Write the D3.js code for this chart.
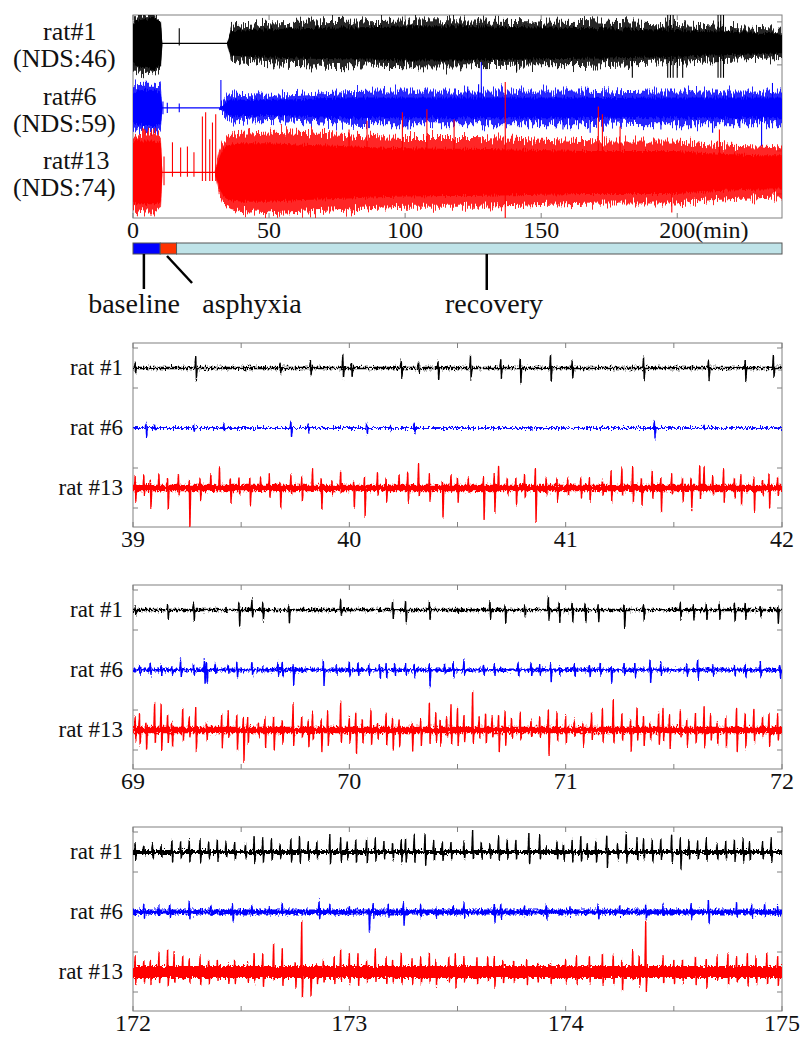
<!DOCTYPE html>
<html>
<head>
<meta charset="utf-8">
<script src="https://cdn.jsdelivr.net/npm/d3@7"></script>
<style>
  body { margin: 0; background: #fff; }
  svg text { font-family: "Liberation Serif", "Times New Roman", serif; fill: #111; }
</style>
</head>
<body>
<div id="chart"></div>
<script>
// ---------- data ----------
const ratNames = ["rat#1", "rat#6", "rat#13"];
const ndsScores = [46, 59, 74];
const traceOffsets = [1.5, 0, -1.5];   // vertical stacking, in y-tick units
const traceColors = ["#000000", "#0000ff", "#ff0000"];

// overview (minutes) – envelope half-amplitudes (0 = flat trace)
const topTime   = [0, 1, 4, 8, 10.2, 10.8, 30, 31.5, 33, 34.5, 36, 40, 50, 60, 75, 90, 100, 115, 125, 140, 150, 165, 175, 190, 200, 210, 220, 230, 238.5];
const r1Core    = [.45, .52, .56, .60, .50, 0, 0, 0, 0, 0, .28, .30, .33, .35, .37, .38, .40, .40, .40, .38, .37, .36, .35, .33, .31, .29, .27, .25, .23];
const r1Fringe  = [.55, .62, .65, .68, .60, 0, 0, 0, 0, 0, .38, .42, .46, .48, .50, .52, .53, .54, .53, .52, .51, .50, .48, .45, .43, .40, .38, .36, .34];
const r6Core    = [.35, .40, .42, .42, .35, 0, 0, 0, .05, .15, .20, .19, .19, .20, .24, .24, .24, .24, .24, .24, .24, .24, .23, .24, .24, .24, .24, .24, .24];
const r6Fringe  = [.50, .55, .56, .56, .50, 0, 0, 0, .12, .30, .32, .30, .28, .30, .36, .38, .38, .38, .38, .38, .38, .38, .36, .38, .38, .38, .38, .38, .38];
const r13Core   = [.70, .74, .74, .74, .70, 0, 0, .30, .55, .62, .65, .68, .68, .65, .62, .58, .56, .55, .55, .53, .52, .50, .50, .50, .50, .45, .42, .40, .40];
const r13Fringe = [.85, .90, .93, .93, .85, 0, 0, .50, .70, .80, .85, .92, .95, .92, .88, .82, .80, .80, .80, .78, .76, .73, .72, .72, .72, .66, .62, .60, .58];
// isolated excursions in the overview: [minute, up, down]
const r1Spikes  = [[17, .35, .05], [141, 0, .65], [183.5, 0, .8], [196.5, .7, .8], [197.5, .7, .8], [198.5, .7, .8], [200, .3, .8], [202, .3, .8], [215, .7, .8], [216, .7, .8], [217, .7, .8]];
const r6Spikes  = [[11, .15, .15], [12.6, .12, .12], [17, .1, .1], [32.3, .65, .05], [101, 0, .5], [123, .5, 0], [127, .55, 0], [128, 1.07, 0], [158, 0, .5], [168, 0, .58], [194, 0, .5], [213, 0, .58], [223, 0, .47], [231, 0, .9], [235, .58, 0]];
const r13Spikes = [[11.4, .37, .3], [14.5, .7, .1], [17.5, .58, .1], [20, .6, .1], [22.4, .47, .1], [25.5, 1.3, .2], [26.7, 1.4, .2], [28.2, .77, .2], [29.2, 1.16, .2], [30.4, 1.35, .2], [79.4, 1.0, 0], [86, 1.2, 0], [99, 1.4, 0], [108, 1.47, 0], [118, 1.23, 0], [136.8, 2.1, 1.1], [171, 1.53, 0], [172.5, 1.35, 0], [179, 1.07, 0], [198, 0, .93], [215.5, 1.0, 0]];
const overviewTicks = [0, 50, 100, 150, 200];
const overviewTickLabels = ["0", "50", "100", "150", "200(min)"];

// protocol phases (minutes)
const phaseNames = ["baseline", "asphyxia", "recovery"];
const phaseStart = [0, 10, 16];
const phaseEnd = [10, 16, 238.5];
const phaseColors = ["#0000ff", "#ff3300", "#bfe3e8"];

// zoomed windows (minutes) and their events: [minute, up, down]
const winStart = [39, 69, 172];
const winEnd = [42, 72, 175];
const winNoise = [[.03, .02, .08], [.03, .04, .08], [.05, .06, .15]];

const w1r1 = [[39.01,.12,.12],[39.29,.29,.29],[39.68,.12,.12],[39.82,.17,.17],[39.97,.32,.25],[40.01,.10,.21],[40.24,.21,.25],[40.32,.17,.12],[40.41,.17,.29],[40.56,.29,.27],[40.70,.21,.23],[40.79,.23,.37],[40.93,.33,.33],[41.03,.17,.25],[41.36,.27,.29],[41.66,.17,.29],[41.83,.18,.32],[41.96,.32,.23]];
const w1r6 = [[39.06,.12,.21],[39.10,.07,.07],[39.28,.08,.08],[39.42,.10,.08],[39.73,.17,.21],[39.81,.10,.10],[40.08,.12,.15],[40.19,.04,.04],[40.30,.12,.12],[40.84,.04,.04],[41.41,.17,.25],[41.64,.07,.04]];
const w1r13 = [[39.01,.29,.33],[39.05,.33,.17],[39.08,.17,.50],[39.12,.33,.08],[39.16,.25,.54],[39.21,.33,.17],[39.26,.17,.98],[39.31,.25,.29],[39.36,.33,.08],[39.40,.50,.08],[39.45,.25,.38],[39.49,.25,.17],[39.54,.25,.42],[39.59,.25,.08],[39.63,.33,.25],[39.68,.17,.50],[39.73,.33,.17],[39.78,.25,.33],[39.83,.46,.08],[39.87,.25,.54],[39.92,.17,.17],[39.96,.42,.13],[40.02,.17,.50],[40.07,.25,.71],[40.13,.38,.17],[40.17,.25,.33],[40.23,.33,.08],[40.27,.42,.33],[40.32,.58,.17],[40.37,.33,.33],[40.43,.17,.75],[40.47,.33,.08],[40.50,.25,.33],[40.55,.25,.13],[40.62,.25,.79],[40.67,.33,.58],[40.69,.54,.08],[40.73,.25,.17],[40.77,.25,.42],[40.81,.33,.25],[40.86,.50,.83],[40.91,.25,.17],[40.96,.25,.33],[41.01,.25,.17],[41.07,.25,.25],[41.11,.25,.33],[41.17,.17,.17],[41.21,.42,.33],[41.26,.50,.17],[41.31,.54,.33],[41.35,.25,.42],[41.40,.42,.25],[41.44,.25,.58],[41.49,.33,.17],[41.54,.25,.33],[41.58,.25,.54],[41.62,.58,.25],[41.64,.54,.08],[41.68,.33,.17],[41.73,.46,.33],[41.78,.25,.25],[41.81,.33,.42],[41.87,.25,.58],[41.91,.17,.17],[41.94,.33,.50],[41.98,.25,.17]];

const w2r1 = [[69.01,.08,.13],[69.16,.13,.21],[69.28,.17,.25],[69.43,.04,.07],[69.49,.17,.40],[69.55,.27,.17],[69.60,.17,.25],[69.72,.10,.32],[69.96,.27,.13],[70.20,.21,.21],[70.26,.21,.32],[70.37,.21,.23],[70.50,.04,.08],[70.65,.21,.21],[70.72,.13,.33],[70.81,.10,.17],[70.92,.33,.23],[70.97,.17,.29],[71.03,.17,.29],[71.09,.17,.32],[71.15,.13,.29],[71.27,.13,.46],[71.36,.13,.23],[71.53,.17,.21],[71.59,.13,.25],[71.65,.13,.25],[71.71,.17,.25],[71.78,.17,.29],[71.83,.17,.23],[71.90,.08,.17],[71.98,.08,.33]];
const w2r6 = [[69.03,.11,.11],[69.08,.17,.13],[69.13,.13,.13],[69.18,.08,.13],[69.22,.25,.17],[69.28,.14,.11],[69.33,.25,.33],[69.34,.19,.33],[69.38,.17,.11],[69.44,.13,.08],[69.48,.17,.17],[69.55,.21,.13],[69.60,.08,.08],[69.67,.19,.13],[69.69,.19,.17],[69.74,.13,.36],[69.78,.06,.06],[69.88,.23,.38],[69.94,.13,.11],[70.00,.19,.17],[70.04,.19,.13],[70.09,.14,.11],[70.14,.13,.21],[70.17,.14,.21],[70.21,.14,.13],[70.26,.14,.11],[70.30,.14,.17],[70.37,.13,.42],[70.44,.14,.08],[70.48,.19,.17],[70.53,.25,.13],[70.62,.14,.13],[70.67,.14,.13],[70.78,.17,.17],[70.84,.19,.13],[70.88,.14,.13],[70.93,.13,.29],[70.97,.08,.11],[71.04,.14,.17],[71.11,.13,.17],[71.16,.17,.13],[71.21,.08,.33],[71.27,.17,.13],[71.32,.14,.17],[71.39,.25,.31],[71.44,.17,.13],[71.56,.13,.13],[71.61,.25,.21],[71.68,.13,.13],[71.78,.13,.13],[71.83,.14,.17],[71.90,.19,.17],[71.99,.13,.21]];
const w2r13 = [[69.01,.33,.25],[69.03,.38,.38],[69.06,.17,.50],[69.10,.67,.33],[69.13,.63,.50],[69.16,.38,.33],[69.18,.17,.42],[69.23,.54,.25],[69.26,.33,.17],[69.29,.54,.50],[69.34,.17,.25],[69.41,.38,.42],[69.44,.46,.17],[69.48,.38,.50],[69.51,.29,.79],[69.53,.29,.33],[69.58,.17,.17],[69.61,.29,.42],[69.65,.33,.50],[69.69,.25,.33],[69.74,.63,.38],[69.78,.33,.17],[69.81,.25,.42],[69.83,.42,.25],[69.87,.25,.54],[69.90,.46,.38],[69.96,.67,.29],[70.00,.33,.33],[70.03,.42,.58],[70.06,.25,.33],[70.10,.50,.38],[70.13,.17,.21],[70.17,.42,.38],[70.20,.29,.50],[70.23,.25,.42],[70.29,.17,.50],[70.33,.25,.38],[70.37,.67,.33],[70.40,.42,.29],[70.42,.25,.38],[70.45,.33,.17],[70.47,.63,.33],[70.50,.54,.38],[70.53,.38,.29],[70.57,.96,.33],[70.60,.33,.17],[70.63,.42,.33],[70.66,.33,.17],[70.69,.38,.54],[70.72,.46,.38],[70.75,.29,.21],[70.79,.42,.25],[70.84,.25,.17],[70.88,.33,.17],[70.92,.50,.63],[70.96,.42,.25],[71.00,.33,.33],[71.04,.25,.17],[71.08,.17,.38],[71.12,.42,.25],[71.17,.54,.29],[71.22,.75,.33],[71.26,.42,.25],[71.30,.25,.50],[71.33,.58,.25],[71.36,.33,.38],[71.39,.17,.25],[71.43,.42,.38],[71.45,.54,.25],[71.48,.38,.46],[71.53,.50,.17],[71.56,.25,.38],[71.60,.42,.33],[71.64,.58,.42],[71.67,.38,.25],[71.70,.17,.33],[71.74,.33,.42],[71.79,.54,.54],[71.83,.42,.42],[71.87,.54,.29],[71.91,.33,.17],[71.94,.42,.42],[71.98,.38,.25]];

const w3r1 = [[172.01,.21,.21],[172.05,.17,.08],[172.09,.21,.17],[172.13,.17,.13],[172.18,.29,.25],[172.22,.25,.17],[172.26,.29,.25],[172.31,.29,.25],[172.35,.25,.17],[172.39,.29,.21],[172.43,.25,.13],[172.47,.25,.21],[172.52,.21,.17],[172.56,.38,.29],[172.60,.33,.25],[172.64,.33,.21],[172.68,.21,.17],[172.73,.33,.25],[172.77,.38,.25],[172.81,.25,.21],[172.85,.25,.17],[172.91,.42,.29],[172.96,.33,.25],[172.99,.25,.17],[173.03,.29,.25],[173.08,.33,.25],[173.12,.33,.21],[173.16,.25,.17],[173.20,.21,.17],[173.24,.29,.25],[173.26,.33,.25],[173.30,.42,.25],[173.35,.46,.33],[173.39,.29,.21],[173.43,.25,.21],[173.47,.25,.17],[173.53,.25,.17],[173.57,.54,.17],[173.61,.25,.17],[173.65,.21,.13],[173.69,.38,.21],[173.73,.29,.17],[173.77,.29,.17],[173.83,.46,.29],[173.88,.42,.17],[173.91,.13,.04],[173.96,.25,.17],[173.99,.21,.21],[174.03,.29,.25],[174.07,.38,.25],[174.10,.21,.17],[174.14,.29,.25],[174.19,.42,.38],[174.24,.21,.17],[174.28,.46,.25],[174.33,.33,.21],[174.36,.33,.17],[174.40,.29,.25],[174.44,.33,.21],[174.49,.42,.25],[174.53,.33,.42],[174.57,.29,.17],[174.61,.25,.17],[174.65,.33,.21],[174.70,.21,.17],[174.74,.25,.17],[174.78,.29,.21],[174.82,.33,.25],[174.85,.25,.21],[174.91,.25,.17],[174.95,.33,.25]];
const w3r6 = [[172.05,.17,.13],[172.12,.13,.08],[172.17,.17,.13],[172.26,.23,.17],[172.36,.17,.08],[172.46,.18,.25],[172.55,.17,.08],[172.63,.13,.08],[172.69,.21,.08],[172.86,.29,.17],[172.91,.17,.08],[173.00,.13,.08],[173.09,.08,.50],[173.11,.21,.13],[173.18,.17,.13],[173.25,.23,.33],[173.33,.17,.13],[173.40,.13,.13],[173.48,.17,.08],[173.53,.23,.13],[173.67,.21,.25],[173.70,.18,.17],[173.81,.15,.08],[173.91,.18,.17],[174.02,.13,.08],[174.15,.18,.17],[174.25,.15,.08],[174.37,.17,.17],[174.45,.17,.08],[174.58,.21,.17],[174.66,.29,.29],[174.79,.23,.13],[174.86,.17,.13],[174.92,.21,.08],[174.98,.13,.08]];
const w3r13 = [[172.01,.38,.29],[172.05,.29,.25],[172.08,.29,.29],[172.12,.50,.29],[172.16,.54,.33],[172.19,.46,.25],[172.23,.38,.21],[172.26,.33,.25],[172.31,.38,.33],[172.35,.29,.29],[172.39,.29,.21],[172.44,.21,.29],[172.47,.29,.29],[172.53,.21,.25],[172.56,.46,.25],[172.60,.46,.38],[172.65,.71,.21],[172.69,.58,.33],[172.75,.25,.38],[172.78,1.29,.63],[172.82,.13,.58],[172.85,.21,.29],[172.88,.29,.25],[172.93,.38,.29],[172.96,.54,.21],[173.00,.46,.29],[173.04,.46,.33],[173.08,.29,.25],[173.12,.58,.21],[173.17,.38,.29],[173.20,.29,.25],[173.24,.46,.29],[173.29,.33,.29],[173.33,.38,.29],[173.37,.46,.25],[173.40,.29,.33],[173.46,.38,.25],[173.49,.46,.38],[173.53,.38,.25],[173.59,.38,.29],[173.64,.38,.21],[173.67,.38,.38],[173.71,.29,.29],[173.76,.29,.25],[173.82,.29,.29],[173.87,.21,.25],[173.93,.21,.29],[174.00,.29,.25],[174.05,.38,.29],[174.11,.38,.25],[174.17,.46,.33],[174.22,.42,.29],[174.26,.29,.46],[174.31,.54,.21],[174.34,.38,.33],[174.37,1.29,.46],[174.45,.38,.29],[174.50,.29,.29],[174.54,.29,.25],[174.60,.38,.29],[174.65,.33,.38],[174.70,.38,.21],[174.75,.46,.33],[174.79,.38,.25],[174.84,.46,.33],[174.88,.38,.29],[174.93,.46,.29],[174.98,.38,.33]];

const winEvents = [[w1r1, w1r6, w1r13], [w2r1, w2r6, w2r13], [w3r1, w3r6, w3r13]];
const yTickValues = [-2, -1, 0, 1, 2];

// ---------- layout ----------
const W = 812, H = 1050;
const plotLeft = 133, plotRight = 782;
const svg = d3.select("#chart").append("svg").attr("width", W).attr("height", H);
const defs = svg.append("defs");

// vertical-only roughening, used as a texture on the dense traces
function roughFilter(id, freq, scale, seed) {
  const f = defs.append("filter").attr("id", id)
    .attr("filterUnits", "userSpaceOnUse")
    .attr("x", 0).attr("y", 0).attr("width", W).attr("height", H);
  f.append("feTurbulence").attr("type", "fractalNoise")
    .attr("baseFrequency", freq).attr("numOctaves", 2).attr("seed", seed).attr("result", "t");
  f.append("feColorMatrix").attr("in", "t").attr("type", "matrix")
    .attr("values", "0 0 0 0 0.5  0 1 0 0 0  0 0 1 0 0  0 0 0 0 1").attr("result", "m");
  f.append("feDisplacementMap").attr("in", "SourceGraphic").attr("in2", "m")
    .attr("scale", scale).attr("xChannelSelector", "R").attr("yChannelSelector", "G");
}
[0, 1, 2].forEach(i => {
  roughFilter("fringe" + i, "0.9 0.02", 22, 3 + i);
  roughFilter("core" + i, "0.9 0.02", 8, 11 + i);
  roughFilter("band" + i, "0.6 0.3", 7, 21 + i);
});

function drawFrame(g, x, y, xTicks, id) {
  const [x0, x1] = x.range();
  const [yb, yt] = y.range();
  g.append("clipPath").attr("id", id).append("rect")
    .attr("x", x0).attr("y", yt).attr("width", x1 - x0).attr("height", yb - yt);
  g.append("rect")
    .attr("x", x0).attr("y", yt).attr("width", x1 - x0).attr("height", yb - yt)
    .attr("fill", "#fff").attr("stroke", "#808080").attr("stroke-width", 1);
  const tk = g.append("g").attr("stroke", "#808080").attr("stroke-width", 1);
  xTicks.forEach(t => {
    tk.append("line").attr("x1", x(t)).attr("x2", x(t)).attr("y1", yt).attr("y2", yt + 5);
    tk.append("line").attr("x1", x(t)).attr("x2", x(t)).attr("y1", yb).attr("y2", yb - 5);
  });
  yTickValues.forEach(v => {
    tk.append("line").attr("x1", x0).attr("x2", x0 + 5).attr("y1", y(v)).attr("y2", y(v));
    tk.append("line").attr("x1", x1).attr("x2", x1 - 5).attr("y1", y(v)).attr("y2", y(v));
  });
}

// ---------- overview panel ----------
const xTop = d3.scaleLinear().domain([0, 238.5]).range([plotLeft, plotRight]);
const yTop = d3.scaleLinear().domain([-2.56, 2.16]).range([218, 15]);
const gTop = svg.append("g");
drawFrame(gTop, xTop, yTop, overviewTicks, "clip-top");

const cores = [r1Core, r6Core, r13Core];
const fringes = [r1Fringe, r6Fringe, r13Fringe];
const spikes = [r1Spikes, r6Spikes, r13Spikes];
const topTraces = gTop.append("g").attr("clip-path", "url(#clip-top)");

ratNames.forEach((name, i) => {
  const off = traceOffsets[i];
  const env = arr => d3.area()
    .x((d, k) => xTop(topTime[k]))
    .y0((d, k) => yTop(off - arr[k]))
    .y1((d, k) => yTop(off + arr[k]))(topTime);
  const tg = topTraces.append("g");
  // quiet trace underneath
  tg.append("line")
    .attr("x1", xTop(topTime[0])).attr("x2", xTop(topTime[topTime.length - 1]))
    .attr("y1", yTop(off)).attr("y2", yTop(off))
    .attr("stroke", traceColors[i]).attr("stroke-width", 1.3);
  tg.append("path").attr("d", env(fringes[i]))
    .attr("fill", traceColors[i]).attr("fill-opacity", 0.85)
    .attr("filter", `url(#fringe${i})`);
  tg.append("path").attr("d", env(cores[i]))
    .attr("fill", traceColors[i]).attr("filter", `url(#core${i})`);
  tg.append("g").selectAll("line").data(spikes[i]).join("line")
    .attr("x1", d => xTop(d[0])).attr("x2", d => xTop(d[0]))
    .attr("y1", d => yTop(off + d[1])).attr("y2", d => yTop(off - d[2]))
    .attr("stroke", traceColors[i]).attr("stroke-width", 1.1);

  gTop.append("text").attr("x", 43).attr("y", yTop(off) - 3)
    .attr("font-size", 26).text(name);
  gTop.append("text").attr("x", 13).attr("y", yTop(off) + 24)
    .attr("font-size", 26).text(`(NDS:${ndsScores[i]})`);
});

overviewTicks.forEach((t, k) => {
  const last = k === overviewTicks.length - 1;
  gTop.append("text")
    .attr("x", last ? xTop(t) - 18 : xTop(t))
    .attr("y", 238)
    .attr("text-anchor", last ? "start" : "middle")
    .attr("font-size", 24)
    .text(overviewTickLabels[k]);
});

// ---------- protocol bar ----------
const barTop = 243, barBottom = 254;
const gBar = svg.append("g");
phaseNames.forEach((p, i) => {
  gBar.append("rect")
    .attr("x", xTop(phaseStart[i])).attr("y", barTop)
    .attr("width", xTop(phaseEnd[i]) - xTop(phaseStart[i])).attr("height", barBottom - barTop)
    .attr("fill", phaseColors[i]).attr("stroke", "#555").attr("stroke-width", 1);
});
const callouts = [
  {x1: xTop(4), y1: barBottom, x2: xTop(4), y2: 289, lx: 134},
  {x1: xTop(12.5), y1: barBottom + 2, x2: xTop(21.7), y2: 283, lx: 252},
  {x1: xTop(130), y1: barBottom, x2: xTop(130), y2: 290, lx: 494}
];
callouts.forEach((c, i) => {
  gBar.append("line").attr("x1", c.x1).attr("y1", c.y1).attr("x2", c.x2).attr("y2", c.y2)
    .attr("stroke", "#000").attr("stroke-width", 2.5);
  gBar.append("text").attr("x", c.lx).attr("y", 313).attr("text-anchor", "middle")
    .attr("font-size", 28).text(phaseNames[i]);
});

// ---------- zoomed panels ----------
const panelTop0 = 343, panelStep = 242, panelH = 184;

winStart.forEach((t0, w) => {
  const t1 = winEnd[w];
  const yt = panelTop0 + w * panelStep, yb = yt + panelH;
  const x = d3.scaleLinear().domain([t0, t1]).range([plotLeft, plotRight]);
  const y = d3.scaleLinear().domain([-2.475, 2.125]).range([yb, yt]);
  const g = svg.append("g");
  const ticks = d3.range(t0, t1 + 0.01, 0.5);
  drawFrame(g, x, y, ticks, "clip-w" + w);
  const traces = g.append("g").attr("clip-path", `url(#clip-w${w})`);

  ratNames.forEach((name, i) => {
    const off = traceOffsets[i];
    const noise = winNoise[w][i];
    const tg = traces.append("g").attr("filter", `url(#band${i})`);
    tg.append("path")
      .attr("d", d3.area().x(d => x(d)).y0(y(off - noise)).y1(y(off + noise))([t0, t1]))
      .attr("fill", traceColors[i]);
    const pts = [[t0, 0]];
    winEvents[w][i].forEach(([t, up, dn]) => {
      pts.push([t - 0.004, 0], [t, up], [t + 0.003, -dn], [t + 0.007, 0]);
    });
    pts.push([t1, 0]);
    tg.append("path")
      .attr("d", d3.line().x(d => x(d[0])).y(d => y(off + d[1]))(pts))
      .attr("fill", "none").attr("stroke", traceColors[i])
      .attr("stroke-width", 1.4).attr("stroke-linejoin", "round");

    g.append("text").attr("x", 123).attr("y", y(off) + 7)
      .attr("text-anchor", "end").attr("font-size", 23)
      .text(name.replace("#", " #"));
  });

  d3.range(t0, t1 + 0.01, 1).forEach(t => {
    g.append("text").attr("x", x(t)).attr("y", yb + 20)
      .attr("text-anchor", "middle").attr("font-size", 24).text(t);
  });
});
</script>
</body>
</html>
